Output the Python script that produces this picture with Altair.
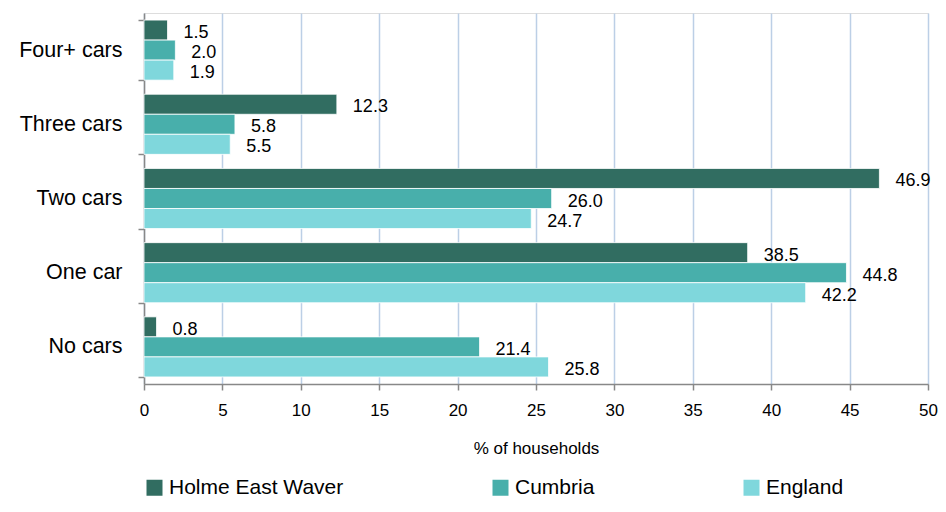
import altair as alt
import pandas as pd

categories = ["Four+ cars", "Three cars", "Two cars", "One car", "No cars"]
series = ["Holme East Waver", "Cumbria", "England"]
holme = [1.5, 12.3, 46.9, 38.5, 0.8]
cumbria = [2.0, 5.8, 26.0, 44.8, 21.4]
england = [1.9, 5.5, 24.7, 42.2, 25.8]
colors = ["#316d61", "#48afab", "#7fd7dc"]
x_ticks = [0, 5, 10, 15, 20, 25, 30, 35, 40, 45, 50]

rows = []
for s, vals in zip(series, [holme, cumbria, england]):
    for c, v in zip(categories, vals):
        rows.append({"category": c, "series": s, "value": v})
df = pd.DataFrame(rows)

FONT = "Liberation Sans"

y_enc = alt.Y(
    "category:N",
    sort=categories,
    scale=alt.Scale(paddingInner=0.19, paddingOuter=0.095),
    axis=alt.Axis(
        title=None,
        labelFontSize=21.5,
        labelColor="#000000",
        labelFont=FONT,
        labelPadding=16,
        tickBand="extent",
        tickSize=6,
        tickColor="#888888",
        domainColor="#888888",
        domainWidth=1.5,
        tickWidth=1.5,
        grid=False,
    ),
)
x_enc = alt.X(
    "value:Q",
    scale=alt.Scale(domain=[0, 50], nice=False),
    axis=alt.Axis(
        title="% of households",
        values=x_ticks,
        labelFontSize=17,
        labelFont=FONT,
        labelColor="#000000",
        labelFlush=False,
        labelOverlap=False,
        titleFontSize=17,
        titleFont=FONT,
        titleFontWeight="normal",
        titleColor="#000000",
        labelPadding=12,
        titlePadding=22,
        tickSize=6,
        tickColor="#888888",
        tickWidth=1.5,
        domainColor="#888888",
        domainWidth=1.5,
        grid=True,
        gridColor="#bccfe6",
        gridWidth=1.5,
    ),
)
yoff = alt.YOffset("series:N", sort=series, scale=alt.Scale(paddingInner=0, paddingOuter=0))

bars = alt.Chart(df).mark_bar(stroke="white", strokeWidth=0.8).encode(
    x=x_enc,
    y=y_enc,
    yOffset=yoff,
    color=alt.Color(
        "series:N",
        sort=series,
        scale=alt.Scale(domain=series, range=colors),
        legend=alt.Legend(
            title=None,
            orient="none",
            legendX=0,
            legendY=464,
            padding=0,
            direction="horizontal",
            columns=3,
            gridAlign="each",
            columnPadding=146,
            symbolType="square",
            symbolSize=256,
            symbolStrokeWidth=0,
            labelFontSize=21,
            labelFont=FONT,
            labelColor="#000000",
            labelLimit=400,
            labelOffset=4,
        ),
    ),
)

labels = alt.Chart(df).mark_text(
    align="left", baseline="middle", dx=16, dy=3, fontSize=18, font=FONT, color="#000000"
).encode(
    x="value:Q",
    y=alt.Y("category:N", sort=categories),
    yOffset=alt.YOffset("series:N", sort=series),
    text=alt.Text("value:Q", format=".1f"),
)

chart = (
    alt.layer(bars, labels)
    .properties(
        width=784,
        height=371,
        autosize=alt.AutoSizeParams(type="none"),
        padding={"left": 136, "top": 5, "right": 10, "bottom": 118},
    )
    .configure_view(stroke=None)
    .configure(background="white")
)

chart.save("out.html", embed_options={"renderer": "svg", "actions": False})
